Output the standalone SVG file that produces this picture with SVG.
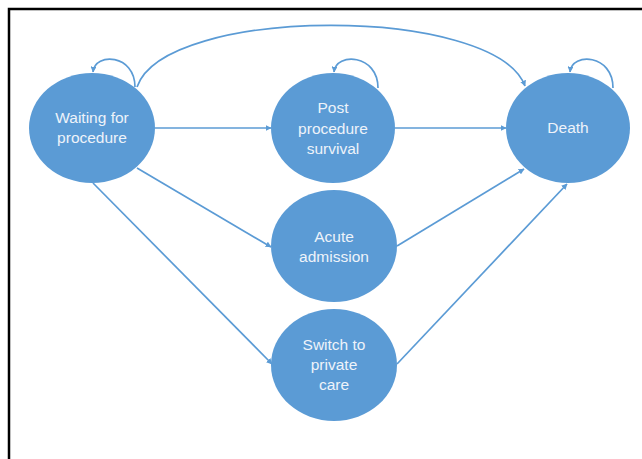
<svg xmlns="http://www.w3.org/2000/svg" width="642" height="459" viewBox="0 0 642 459">
<style>
.node{fill:#5b9bd5;}
.lbl{font-family:"Liberation Sans",Arial,sans-serif;font-size:15.5px;fill:#eef3fa;text-anchor:middle;}
.edge{fill:none;stroke:#5b9bd5;stroke-width:1.7;marker-end:url(#arr);}
</style>
<defs>
<marker id="arr" viewBox="0 0 10 10" refX="9" refY="5" markerWidth="6" markerHeight="6" markerUnits="userSpaceOnUse" orient="auto">
<path d="M0,0 L10,5 L0,10 z" fill="#5b9bd5"/>
</marker>
</defs>
<rect width="642" height="459" fill="#ffffff"/>
<path d="M9,460 V9 H643" fill="none" stroke="#000" stroke-width="2.5"/>
<g id="connectors">
<path class="edge" d="M155,128 H271"/>
<path class="edge" d="M395,128 H506"/>
<path class="edge" d="M137,168 L271,247"/>
<path class="edge" d="M93,183 L272,364"/>
<path class="edge" d="M397,246 L524,169"/>
<path class="edge" d="M397,364 L567,184"/>
<path class="edge" d="M137,87 C165,5 495,5 525,86"/>
<path class="edge" d="M135,87 C135,54 95,52 93,72"/>
<path class="edge" d="M378,88 C378,54 336,52 334,72"/>
<path class="edge" d="M613,88 C613,54 572,52 570,72"/>
</g>
<g id="waiting">
<ellipse class="node" cx="92" cy="128" rx="63" ry="55"/>
<text class="lbl" x="92" y="123">Waiting for</text>
<text class="lbl" x="92" y="143">procedure</text>
</g>
<g id="post">
<ellipse class="node" cx="333" cy="128" rx="62" ry="55"/>
<text class="lbl" x="333" y="113">Post</text>
<text class="lbl" x="333" y="134">procedure</text>
<text class="lbl" x="333" y="154">survival</text>
</g>
<g id="death">
<ellipse class="node" cx="568" cy="128" rx="62" ry="55"/>
<text class="lbl" x="568" y="133">Death</text>
</g>
<g id="acute">
<ellipse class="node" cx="334" cy="246" rx="63" ry="56"/>
<text class="lbl" x="334" y="242">Acute</text>
<text class="lbl" x="334" y="262">admission</text>
</g>
<g id="switch">
<ellipse class="node" cx="334" cy="365" rx="63" ry="56"/>
<text class="lbl" x="334" y="350">Switch to</text>
<text class="lbl" x="334" y="370">private</text>
<text class="lbl" x="334" y="390">care</text>
</g>
</svg>
